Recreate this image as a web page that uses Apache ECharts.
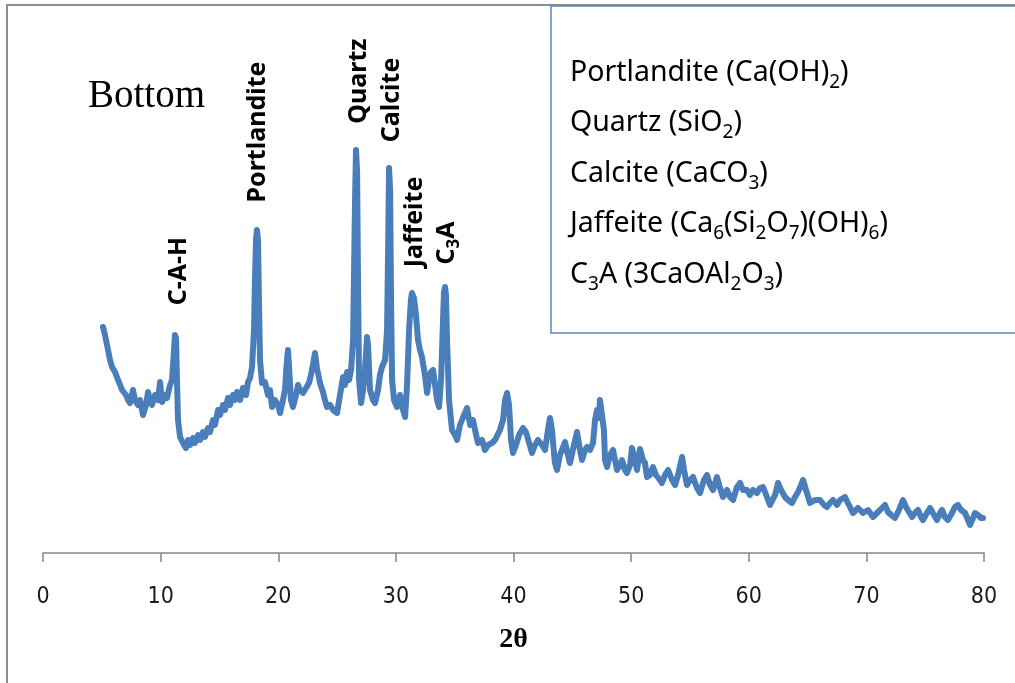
<!DOCTYPE html>
<html><head><meta charset="utf-8">
<script src="https://cdn.jsdelivr.net/npm/echarts@6/dist/echarts.min.js"></script>
<style>html,body{margin:0;padding:0;background:#fff}#c{width:1015px;height:683px}</style>
</head><body><div id="c"></div>
<script>
const twoTheta = [5.10,5.27,5.53,5.70,5.87,6.12,6.38,6.55,6.72,6.89,7.06,7.23,7.40,7.65,7.82,8.08,8.25,8.50,8.76,8.93,9.10,9.27,9.52,9.78,9.95,10.12,10.37,10.54,10.80,10.97,11.14,11.22,11.31,11.39,11.48,11.65,11.82,11.99,12.16,12.33,12.50,12.75,12.92,13.18,13.35,13.60,13.77,14.03,14.20,14.45,14.62,14.88,15.05,15.30,15.47,15.73,15.90,16.15,16.32,16.49,16.75,17.00,17.26,17.43,17.60,17.77,17.94,18.02,18.11,18.19,18.28,18.36,18.45,18.62,18.87,19.13,19.30,19.47,19.72,19.98,20.15,20.40,20.57,20.74,20.83,20.91,21.08,21.25,21.51,21.68,21.85,22.10,22.36,22.61,22.78,22.95,23.12,23.29,23.55,23.80,23.97,24.14,24.40,24.66,25.00,25.25,25.51,25.68,25.85,26.02,26.19,26.36,26.53,26.61,26.70,26.78,26.87,27.04,27.21,27.37,27.55,27.63,27.80,28.06,28.23,28.48,28.65,28.82,29.08,29.25,29.34,29.42,29.51,29.59,29.68,29.84,30.10,30.35,30.61,30.78,30.95,31.12,31.28,31.37,31.54,31.71,31.88,32.05,32.22,32.47,32.65,32.81,32.98,33.16,33.33,33.50,33.67,33.84,34.01,34.09,34.18,34.26,34.35,34.52,34.77,35.03,35.20,35.45,35.62,35.79,36.05,36.31,36.56,36.73,36.98,37.32,37.58,37.83,38.17,38.43,38.85,39.11,39.28,39.45,39.62,39.79,39.96,40.21,40.47,40.81,41.06,41.23,41.57,41.83,42.08,42.42,42.68,42.93,43.10,43.27,43.52,43.70,43.95,44.38,44.63,44.80,45.14,45.40,45.65,45.82,46.08,46.25,46.50,46.76,46.93,47.10,47.27,47.35,47.52,47.69,47.78,47.95,48.20,48.46,48.80,49.05,49.22,49.48,49.65,49.91,50.07,50.33,50.50,50.75,51.01,51.18,51.35,51.60,51.86,52.11,52.45,52.62,52.88,53.14,53.48,53.73,53.99,54.24,54.33,54.50,54.75,55.01,55.26,55.60,55.86,56.19,56.45,56.71,56.96,57.30,57.56,57.81,58.15,58.41,58.66,59.00,59.26,59.51,59.85,60.10,60.36,60.70,60.96,61.21,61.55,61.81,61.98,62.24,62.49,62.75,63.08,63.34,63.68,63.93,64.19,64.45,64.61,64.87,65.21,65.63,66.06,66.40,66.65,66.91,67.16,67.50,67.76,68.18,68.52,68.86,69.29,69.71,70.14,70.56,70.99,71.33,71.58,71.84,72.10,72.43,72.77,73.11,73.37,73.62,73.88,74.13,74.39,74.64,74.81,75.15,75.41,75.75,76.00,76.26,76.43,76.68,76.94,77.28,77.53,77.79,78.05,78.39,78.64,78.81,78.98,79.24,79.49,79.75,79.92];
const intensity = [226,218,203,193,186,181,173,175,163,165,158,153,150,163,153,148,153,138,148,161,153,148,158,153,171,151,158,155,168,173,203,218,215,173,133,116,118,108,105,113,108,115,110,118,113,121,116,125,121,133,128,143,138,148,143,155,148,158,153,161,153,165,158,171,175,186,223,273,313,323,313,253,193,170,171,158,163,146,153,148,140,153,163,193,203,188,153,146,158,168,163,160,165,170,178,188,200,185,170,161,153,146,148,143,140,158,176,168,181,173,183,213,353,403,383,273,173,150,163,183,216,208,163,153,150,163,178,186,193,223,303,385,363,253,173,153,146,158,143,136,168,223,253,260,255,238,213,203,196,178,160,173,181,183,168,153,146,173,233,261,266,258,213,153,123,118,113,128,130,138,145,128,133,123,110,113,103,108,110,113,123,133,153,160,148,113,100,108,118,125,121,123,100,108,113,108,103,123,135,123,90,83,98,111,98,90,108,121,103,93,103,106,103,110,133,143,135,153,151,123,93,86,98,103,83,88,93,83,80,88,105,93,83,104,93,90,76,78,86,78,73,70,78,83,73,68,78,91,96,83,68,73,76,65,60,73,78,68,63,76,65,56,63,56,53,66,70,63,63,58,63,60,65,66,56,48,46,58,70,63,56,53,50,56,61,68,73,63,50,53,53,48,46,50,53,48,53,56,48,40,45,40,43,36,41,45,48,41,38,35,43,53,46,41,36,40,43,36,33,40,45,38,33,40,43,36,33,40,46,48,43,40,33,28,30,40,38,35,35];
const xMin = 0, xMax = 80, xStep = 10;
const axisTitle = '2θ';
const sampleTitle = 'Bottom';
const peakLabels = ['C-A-H', 'Portlandite', 'Quartz', 'Calcite', 'Jaffeite', '{b|C}{bs|3}{b|A}'];
const legendLines = [
  '{n|Portlandite (Ca(OH)}{s|2}{n|)}',
  '{n|Quartz (SiO}{s|2}{n|)}',
  '{n|Calcite (CaCO}{s|3}{n|)}',
  '{n|Jaffeite (Ca}{s|6}{n|(Si}{s|2}{n|O}{s|7}{n|)(OH)}{s|6}{n|)}',
  '{n|C}{s|3}{n|A (3CaOAl}{s|2}{n|O}{s|3}{n|)}'
];

const n = Math.min(twoTheta.length, intensity.length);
const data = [];
for (let i = 0; i < n; i++) data.push([twoTheta[i], intensity[i]]);

const peakPos = [[179, 271], [258, 132], [359, 81], [392, 100], [415, 222], [447, 243]];
const richLabel = {
  b: {fontFamily: 'Noto Sans', fontWeight: 'bold', fontSize: 25, lineHeight: 32, fill: '#000'},
  bs: {fontFamily: 'Noto Sans', fontWeight: 'bold', fontSize: 17, lineHeight: 17, verticalAlign: 'bottom', fill: '#000'}
};
const graphics = [
  {type: 'rect', shape: {x: 7, y: 5, width: 1100, height: 800}, style: {fill: 'none', stroke: '#8e8e8e', lineWidth: 2}, z: 1},
  {type: 'rect', shape: {x: 551, y: 6, width: 500, height: 327}, style: {fill: '#fff', stroke: '#5b86c0', lineWidth: 1.5}, z: 2},
  {type: 'text', x: 88, y: 97, style: {text: sampleTitle, font: '39px "Liberation Serif"', verticalAlign: 'middle', fill: '#000'}, z: 5}
];
peakLabels.forEach((t, i) => {
  graphics.push({type: 'text', x: peakPos[i][0], y: peakPos[i][1], rotation: Math.PI / 2,
    style: {text: t, font: 'bold 25px "Noto Sans"', align: 'center', verticalAlign: 'middle', fill: '#000', rich: richLabel}, z: 5});
});
const legendY = [73, 123, 174, 224, 275];
legendLines.forEach((t, i) => {
  graphics.push({type: 'text', x: 570, y: legendY[i],
    style: {text: t, verticalAlign: 'middle', align: 'left', fill: '#000',
      rich: {
        n: {fontFamily: 'Noto Sans', fontSize: 28.5, lineHeight: 38, fill: '#000'},
        s: {fontFamily: 'Noto Sans', fontSize: 19, lineHeight: 19, verticalAlign: 'bottom', fill: '#000'}
      }}, z: 5});
});

const chart = echarts.init(document.getElementById('c'));
chart.setOption({
  animation: false,
  backgroundColor: '#fff',
  grid: {left: 43, right: 31, top: 5, bottom: 130},
  xAxis: {
    type: 'value', min: xMin, max: xMax, interval: xStep,
    name: axisTitle, nameLocation: 'middle', nameGap: 73,
    nameTextStyle: {fontFamily: 'Liberation Serif', fontWeight: 'bold', fontSize: 28, color: '#000'},
    axisLine: {lineStyle: {color: '#868686', width: 1.5}},
    axisTick: {length: 9, lineStyle: {color: '#868686', width: 1.5}},
    axisLabel: {margin: 33, fontFamily: '"DejaVu Sans Condensed", "Noto Sans"', fontSize: 23, color: '#1a1a1a'},
    splitLine: {show: false}
  },
  yAxis: {type: 'value', min: 0, max: 548, show: false},
  series: [{
    type: 'line', data: data, showSymbol: false, z: 3,
    lineStyle: {color: '#4a7ebb', width: 6, cap: 'round', join: 'round'}
  }],
  graphic: graphics
});
</script>
</body></html>
